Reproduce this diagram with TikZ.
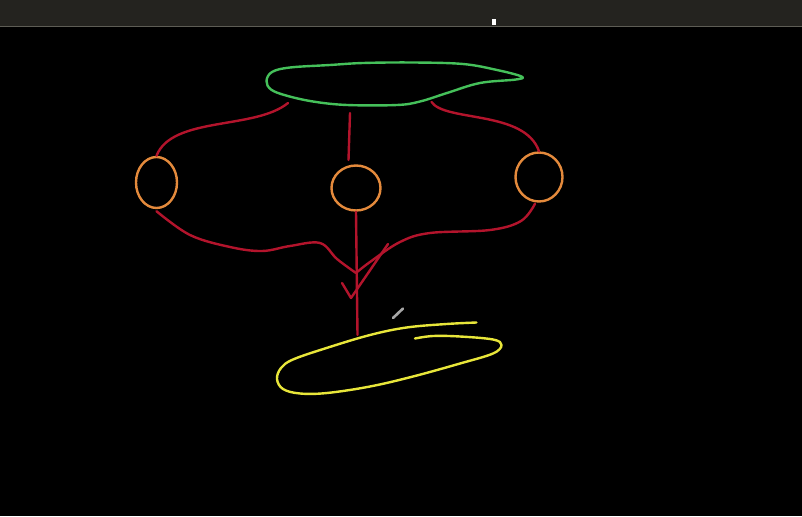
\documentclass[tikz,border=0pt]{standalone}
\usepackage{tikz}
\usetikzlibrary{calc,shapes.geometric}

\definecolor{barcol}{HTML}{24231F}
\definecolor{barline}{HTML}{5E5D55}
\definecolor{blobgreen}{HTML}{45C05A}
\definecolor{wirered}{HTML}{B3142C}
\definecolor{ballorange}{HTML}{E48A3C}
\definecolor{blobyellow}{HTML}{E8E63A}

\tikzset{
  pen/.style={line width=2.4pt, line cap=round, line join=round},
  wire/.style={pen, draw=wirered},
  ball/.style={ellipse, draw=ballorange, pen, inner sep=0pt}
}

\begin{document}
\begin{tikzpicture}[x=1pt,y=-1pt]
    \useasboundingbox (0,0) rectangle (802,516);

    % draw background and top bar
    \fill[black] (0,0) rectangle (802,516);
    \fill[barcol] (0,0) rectangle (802,26);
    \draw[barline, line width=1pt] (0,26.5) -- (802,26.5);
    \fill[white] (492,19) rectangle (496,25);

    % draw green blob
    \draw[pen, blobgreen] plot[smooth cycle, tension=0.6] coordinates {
      (266.5,81) (272,72) (290,67.5) (330,65) (363,63) (413,62.5) (463,64) (497,70) (521.5,76.5)
      (516,79.5) (480,83) (447,93) (420,101.5) (397,105) (347,105) (313,101.5) (286,95.5) (271,89.5)};
    \coordinate (g-left) at (288,103);
    \coordinate (g-mid) at (350,113);
    \coordinate (g-right) at (431.5,102);

    % draw orange balls
    \node[ball, minimum width=41pt, minimum height=51pt] (left) at (156.5,182.5) {};
    \node[ball, minimum width=49pt, minimum height=45pt] (mid) at (356,188) {};
    \node[ball, minimum width=47pt, minimum height=49pt] (right) at (539,177) {};

    % draw yellow blob
    \draw[pen, blobyellow] plot[smooth, tension=0.6] coordinates {
      (476.5,322.5) (446.5,324) (406.5,327.5) (370,335) (326.5,348) (293,359.5) (281,368)
      (277,379) (283,389) (300,393.5) (327,393) (370,386.5) (413,376.5) (460,363.5) (493,353.5)
      (501.5,345) (493,339.5) (460,336.5) (433,336) (415,338.5)};
    \coordinate (y-top) at (357.5,335);

    % draw wires
    \coordinate (join) at (356,273);
    \draw[wire] (g-left) .. controls (255,130) and (172,116) .. (left.north);
    \draw[wire] (g-mid) -- (348.5,160);
    \draw[wire] (g-right) .. controls (445,122) and (525,110) .. (right.north);
    \draw[wire] plot[smooth, tension=0.6] coordinates {
      ([yshift=-2pt]left.south) (190,235) (230,247) (262,251) (290,246) (320,243) (337,259) (join)};
    \draw[wire] plot[smooth, tension=0.6] coordinates {
      ([xshift=-4pt,yshift=-1pt]right.south) (521,221) (490,230) (430,233) (400,242) (370,262) (join)};
    \draw[wire] (mid.south) -- (y-top);
    \draw[wire] (342,283) -- (351,298) -- (388,244);

    % draw pen cursor
    \draw[pen, line width=2.6pt, gray!70!white] (393,318) -- (403,308.5);
\end{tikzpicture}
\end{document}
